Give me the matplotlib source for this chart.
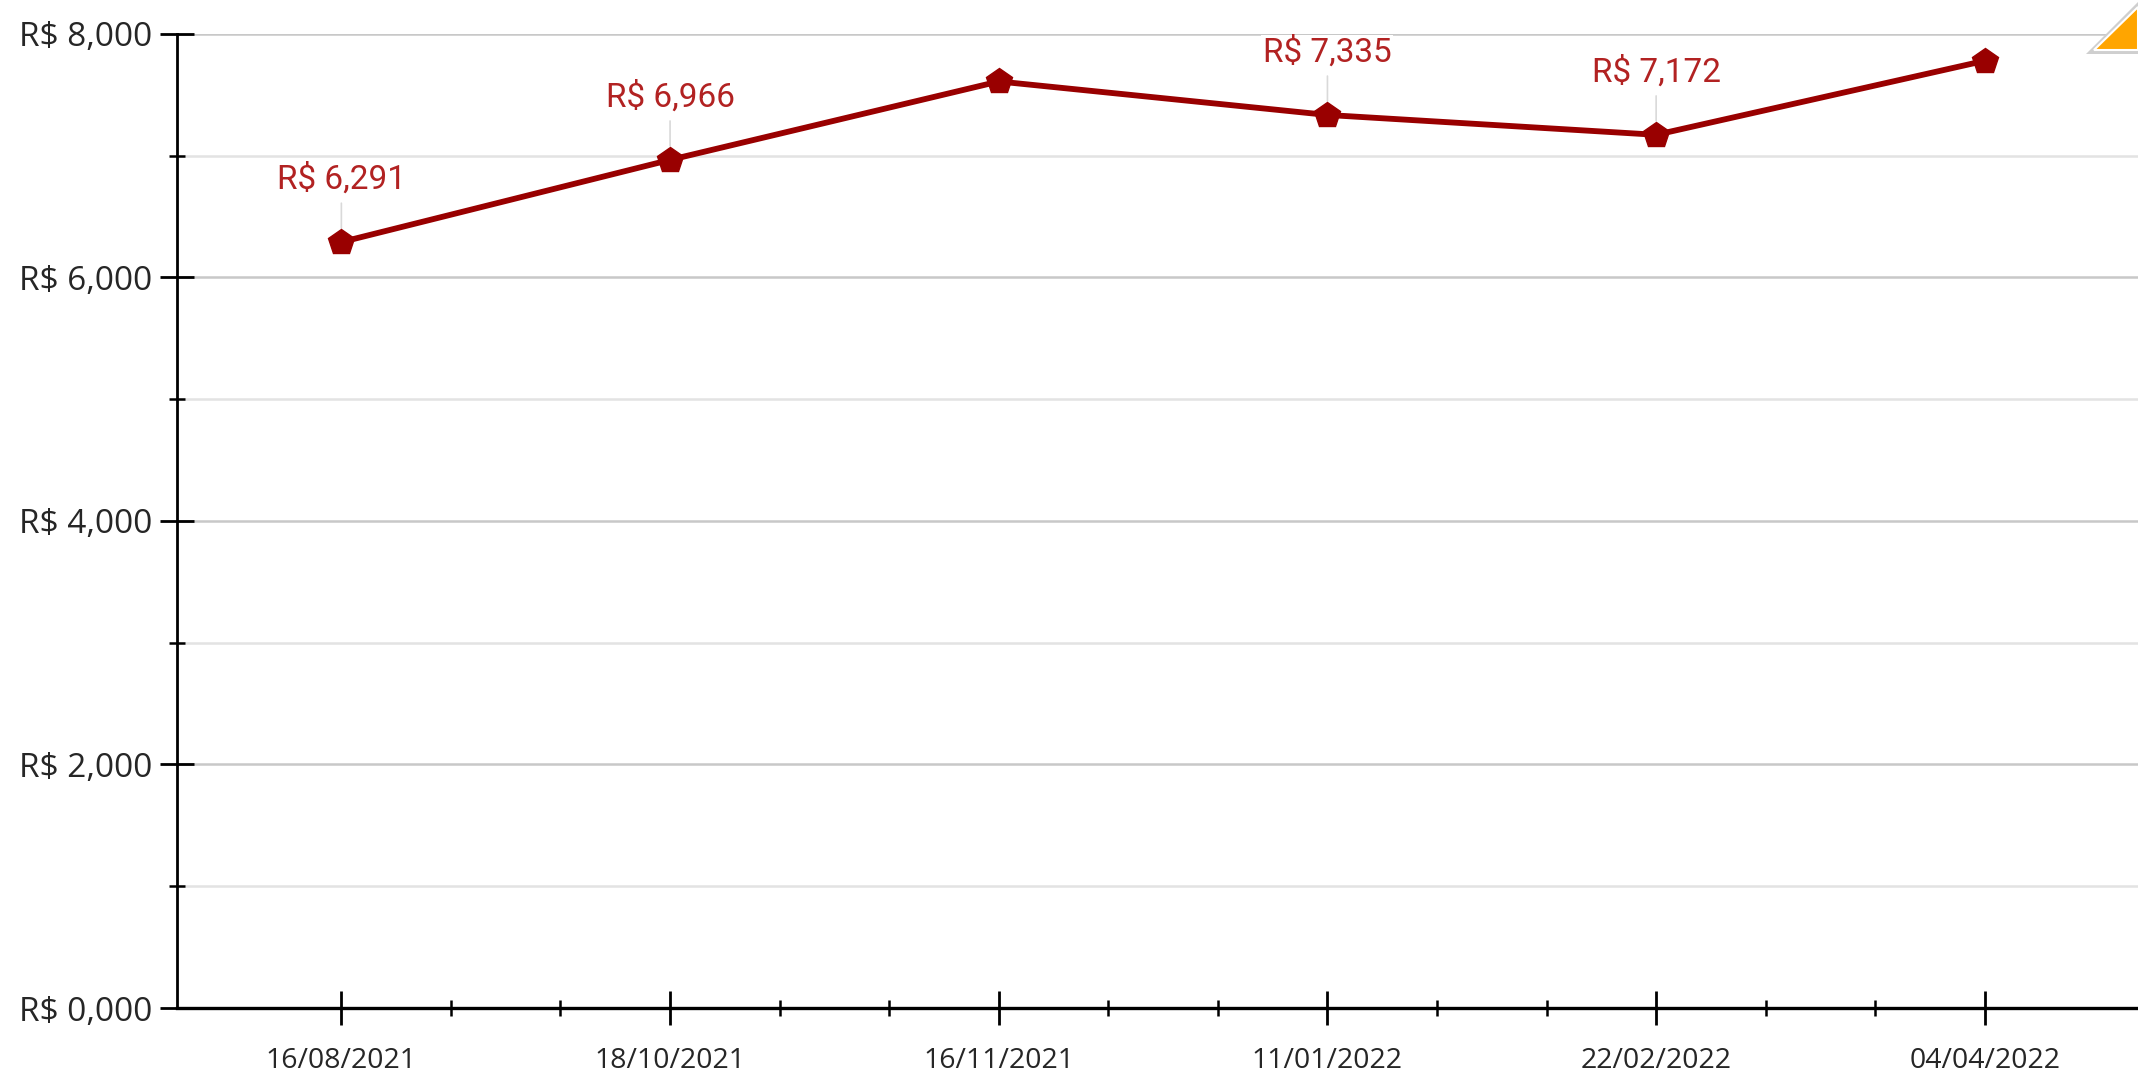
import matplotlib
matplotlib.use("Agg")
import matplotlib.pyplot as plt
from matplotlib.patches import Polygon
from matplotlib.ticker import FixedLocator, FuncFormatter

dates = ["16/08/2021", "18/10/2021", "16/11/2021", "11/01/2022", "22/02/2022", "04/04/2022"]
values = [6.291, 6.966, 7.610, 7.335, 7.172, 7.780]
labelled = [True, True, False, True, True, False]

LINE = "#990000"
LABEL = "#b22222"
TEXT = "#262626"

plt.rcParams["font.family"] = ["Open Sans", "DejaVu Sans"]

fig = plt.figure(figsize=(21.38, 10.79), dpi=100)
ax = fig.add_axes([0.0828, 0.0658, 0.9172, 0.9027])

x = list(range(len(dates)))
ax.plot(x, values, color=LINE, linewidth=4.2, marker="p", markersize=19,
        markerfacecolor=LINE, markeredgecolor=LINE, zorder=5, clip_on=False)

for xi, v, show in zip(x, values, labelled):
    if not show:
        continue
    ax.annotate("", xy=(xi, v), xytext=(0, 28), textcoords="offset points",
                xycoords="data",
                arrowprops=dict(arrowstyle="-", color="#d9d9d9", lw=1.2,
                                shrinkA=0, shrinkB=10), zorder=3)
    ax.annotate(f"R$ {v:.3f}".replace(".", ","), (xi, v), textcoords="offset points",
                xytext=(0, 45), ha="center", va="center", fontsize=24,
                family=["Roboto", "DejaVu Sans"], color=LABEL,
                bbox=dict(boxstyle="square,pad=0.05", fc="white", ec="none"), zorder=4)

ax.set_xlim(-0.5, 5.466)
ax.set_ylim(0, 8)

ax.xaxis.set_major_locator(FixedLocator(x))
ax.set_xticklabels(dates)
minor_x = [i + f for i in range(len(dates) - 1) for f in (1 / 3, 2 / 3)]
ax.xaxis.set_minor_locator(FixedLocator(minor_x))

ax.yaxis.set_major_locator(FixedLocator([0, 2, 4, 6, 8]))
ax.yaxis.set_minor_locator(FixedLocator([1, 3, 5, 7]))
ax.yaxis.set_major_formatter(FuncFormatter(lambda v, p: f"R$ {v:.3f}".replace(".", ",")))

ax.grid(True, which="major", axis="y", color="#c8c8c8", linewidth=1.8, zorder=0)
ax.grid(True, which="minor", axis="y", color="#e3e3e3", linewidth=1.8, zorder=0)
ax.set_axisbelow(True)

for side in ("top", "right"):
    ax.spines[side].set_visible(False)
ax.spines["left"].set_linewidth(2.0)
ax.spines["bottom"].set_linewidth(2.4)

ax.tick_params(axis="y", which="major", direction="inout", length=24, width=2.0,
               labelsize=24, pad=6, colors="black", labelcolor=TEXT)
ax.tick_params(axis="y", which="minor", direction="inout", length=12, width=1.8)
ax.tick_params(axis="x", which="major", direction="inout", length=24, width=2.0,
               labelsize=20.5, pad=16, colors="black", labelcolor=TEXT)
ax.tick_params(axis="x", which="minor", direction="inout", length=12, width=1.8)

# orange corner marker, top right
fig.patches.append(Polygon([[2086 / 2138, 1 - 54 / 1079], [1.0, 1 - 54 / 1079], [1.0, 1 - 2 / 1079]],
                           closed=True, transform=fig.transFigure, facecolor="#cfcfcf",
                           edgecolor="none", zorder=1))
fig.patches.append(Polygon([[2094 / 2138, 1 - 50 / 1079], [1.0, 1 - 50 / 1079], [1.0, 1 - 7 / 1079]],
                           closed=True, transform=fig.transFigure, facecolor="#ffa500",
                           edgecolor="white", linewidth=1.5, zorder=2))

fig.savefig("out.png", dpi=100, facecolor="white")
